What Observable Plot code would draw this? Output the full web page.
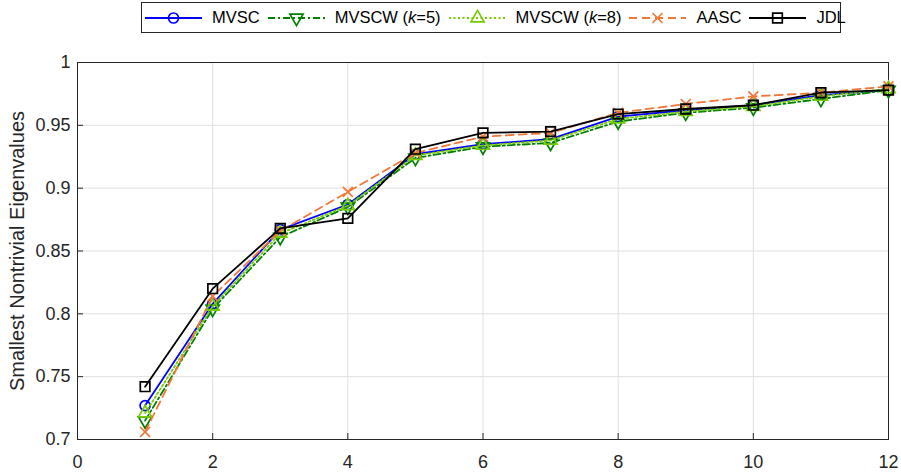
<!DOCTYPE html>
<html>
<head>
<meta charset="utf-8">
<script src="https://cdn.jsdelivr.net/npm/d3@7"></script>
<script src="https://cdn.jsdelivr.net/npm/@observablehq/plot@0.6"></script>
<style>
  html, body { margin: 0; padding: 0; background: #fff; }
  #wrap { position: relative; width: 901px; height: 472px; font-family: "Liberation Sans", Arial, Helvetica, sans-serif; }
  #legend { position: absolute; left: 141px; top: 2px; width: 695px; height: 29px; border: 1px solid #262626; background: #fff;
            display: flex; align-items: center; padding-left: 3px; box-sizing: content-box; font-size: 16.5px; color: #000; }
  .item { display: flex; align-items: center; margin-right: 8px; white-space: nowrap; }
  .item svg { margin-right: 10px; }
</style>
</head>
<body>
<div id="wrap">
  <div id="chart"></div>
  <div id="legend"></div>
</div>
<script>
// ---- data ----
const xs = [1, 2, 3, 4, 5, 6, 7, 8, 9, 10, 11, 12];
const mvsc   = [0.727, 0.808, 0.867, 0.887, 0.927, 0.935, 0.939, 0.957, 0.962, 0.966, 0.974, 0.978];
const mvscw5 = [0.715, 0.804, 0.861, 0.885, 0.924, 0.933, 0.936, 0.953, 0.960, 0.964, 0.971, 0.978];
const mvscw8 = [0.721, 0.806, 0.864, 0.886, 0.926, 0.934, 0.938, 0.955, 0.961, 0.965, 0.973, 0.979];
const aasc   = [0.706, 0.814, 0.866, 0.897, 0.928, 0.941, 0.944, 0.960, 0.967, 0.973, 0.976, 0.981];
const jdl    = [0.742, 0.820, 0.868, 0.876, 0.931, 0.944, 0.945, 0.959, 0.963, 0.966, 0.976, 0.978];
const xTicks = [0, 2, 4, 6, 8, 10, 12];
const yTicks = [0.7, 0.75, 0.8, 0.85, 0.9, 0.95, 1];
const yLabel = "Smallest Nontrivial Eigenvalues";

const triangleDown = {
  draw(context, size) {
    const y = -Math.sqrt(size / (Math.sqrt(3) * 3));
    context.moveTo(0, -y * 2);
    context.lineTo(-Math.sqrt(3) * y, y);
    context.lineTo(Math.sqrt(3) * y, y);
    context.closePath();
  }
};

const series = [
  {name: "MVSC", html: "MVSC", values: mvsc, color: "#0000FF", dash: null, symbol: "circle", r: 5},
  {name: "MVSCW (k=5)", html: "MVSCW (<i>k</i>=5)", values: mvscw5, color: "#008000", dash: "7,3,2,3", symbol: triangleDown, r: 4.9},
  {name: "MVSCW (k=8)", html: "MVSCW (<i>k</i>=8)", values: mvscw8, color: "#77CC00", dash: "2,2.5", symbol: "triangle", r: 4.9},
  {name: "AASC", html: "AASC", values: aasc, color: "#F0773A", dash: "8,5", symbol: "times", r: 4.6},
  {name: "JDL", html: "JDL", values: jdl, color: "#000000", dash: null, symbol: "square", r: 5.4}
];

const marks = [
  Plot.gridX(xTicks, {stroke: "#dfdfdf", strokeOpacity: 1}),
  Plot.gridY(yTicks, {stroke: "#dfdfdf", strokeOpacity: 1}),
  Plot.frame({stroke: "#262626", strokeWidth: 1})
];
for (const s of series) {
  const data = xs.map((x, i) => ({x, y: s.values[i]}));
  marks.push(Plot.line(data, {x: "x", y: "y", stroke: s.color, strokeWidth: 1.8, strokeDasharray: s.dash}));
  marks.push(Plot.dot(data, {x: "x", y: "y", stroke: s.color, strokeWidth: 1.7, fill: "none", symbol: s.symbol, r: s.r}));
}
marks.push(Plot.axisX(xTicks, {tickSize: -6, tickPadding: 22, stroke: "#262626", fill: "#262626", fontSize: 18, label: null}));
marks.push(Plot.axisY(yTicks, {tickSize: -6, tickPadding: 13, stroke: "#262626", fill: "#262626", fontSize: 18,
  tickFormat: d => d === 1 ? "1" : String(+d.toFixed(2)), label: null}));
marks.push(Plot.text([yLabel], {text: d => d, frameAnchor: "left", textAnchor: "middle", lineAnchor: "middle",
  rotate: -90, dx: -60, fontSize: 20, fill: "#262626"}));

const chart = Plot.plot({
  width: 901,
  height: 472,
  marginTop: 62,
  marginBottom: 33,
  marginLeft: 77,
  marginRight: 13,
  style: {fontFamily: "'Liberation Sans', Arial, Helvetica, sans-serif", fontSize: "18px", color: "#262626", background: "#fff"},
  x: {domain: [0, 12]},
  y: {domain: [0.7, 1]},
  marks
});
document.getElementById("chart").appendChild(chart);

// ---- legend ----
const legend = document.getElementById("legend");
for (const s of series) {
  const item = document.createElement("div");
  item.className = "item";
  const w = 57, h = 20;
  const svg = d3.create("svg").attr("width", w).attr("height", h);
  svg.append("line").attr("x1", 0).attr("x2", w).attr("y1", h / 2).attr("y2", h / 2)
    .attr("stroke", s.color).attr("stroke-width", 1.8).attr("stroke-dasharray", s.dash);
  const sym = typeof s.symbol === "string"
    ? {circle: d3.symbolCircle, triangle: d3.symbolTriangle, times: d3.symbolTimes, square: d3.symbolSquare}[s.symbol]
    : s.symbol;
  svg.append("path").attr("transform", `translate(${w / 2},${h / 2})`)
    .attr("d", d3.symbol(sym, s.r * s.r * Math.PI)())
    .attr("fill", "none").attr("stroke", s.color).attr("stroke-width", 1.7);
  item.appendChild(svg.node());
  const t = document.createElement("span");
  t.innerHTML = s.html;
  item.appendChild(t);
  legend.appendChild(item);
}
</script>
</body>
</html>
